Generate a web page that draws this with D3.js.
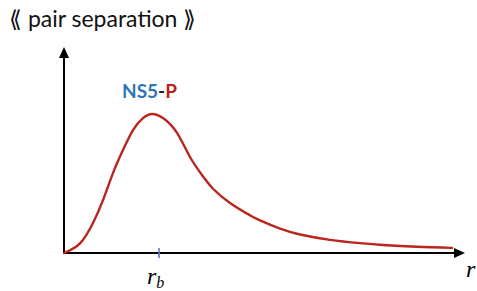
<!DOCTYPE html>
<html><head><meta charset="utf-8">
<script src="https://cdn.jsdelivr.net/npm/d3@7"></script>
<style>body{margin:0;background:#fff}svg{display:block}</style>
</head><body>
<svg id="c" width="477" height="291"></svg>
<script>
// Data (arbitrary units)
const rValues = [0,0.4,0.725,0.975,1.225,1.475,1.725,1.975,2.2,2.475,2.825,3.15,3.475,3.725,4.15,4.65,4.9,5.4,5.9,6.65,7.4,7.975,8.825,9.7];
const pValues = [0,0.047,0.146,0.257,0.388,0.5,0.597,0.655,0.675,0.655,0.583,0.466,0.372,0.312,0.243,0.183,0.158,0.118,0.09,0.064,0.048,0.039,0.03,0.025];
const rbTick = [2.375];
const titleText = "⟪ pair separation ⟫";
const labelParts = ["NS5", "-", "P"];

const svg = d3.select("#c");
const x = d3.scaleLinear().domain([0, 10]).range([64, 464]);
const y = d3.scaleLinear().domain([0, 1]).range([253, 47]);

// axes
const axisColor = "#000";
svg.append("line").attr("x1", x(0)).attr("x2", x(10) - 8).attr("y1", y(0)).attr("y2", y(0))
  .attr("stroke", axisColor).attr("stroke-width", 2);
svg.append("line").attr("x1", x(0)).attr("x2", x(0)).attr("y1", y(0) + 1).attr("y2", y(1) + 8)
  .attr("stroke", axisColor).attr("stroke-width", 2);
// arrowheads
svg.append("path").attr("d", `M${x(10)+1},${y(0)} l-11,-5 l0,10 z`).attr("fill", axisColor);
svg.append("path").attr("d", `M${x(0)},${y(1)} l-5,11 l10,0 z`).attr("fill", axisColor);

// rb tick
svg.selectAll(".tk").data(rbTick).join("line")
  .attr("x1", d => x(d)).attr("x2", d => x(d))
  .attr("y1", y(0) - 5).attr("y2", y(0) + 5)
  .attr("stroke", "#5B7BC6").attr("stroke-width", 1.6);

// curve
const pts = rValues.map((r, i) => [r, pValues[i]]);
svg.append("path").datum(pts)
  .attr("d", d3.line().x(d => x(d[0])).y(d => y(d[1])).curve(d3.curveNatural))
  .attr("fill", "none").attr("stroke", "#B8261E").attr("stroke-width", 2.4)
  .attr("stroke-linecap", "round");

// title
svg.append("text").attr("x", 9).attr("y", 27).text(titleText)
  .attr("font-family", "Lato, 'Open Sans', sans-serif").attr("font-size", 23).attr("fill", "#111");

// NS5-P label
const lab = svg.append("text").attr("x", 122).attr("y", 98)
  .attr("font-family", "Lato, 'Open Sans', sans-serif").attr("font-weight", "bold").attr("font-size", 19);
const labColors = ["#2E75B6", "#222", "#C0201A"];
labelParts.forEach((t, i) => lab.append("tspan").text(t).attr("fill", labColors[i]));

// r labels
svg.append("text").attr("x", 466).attr("y", 277).text("r")
  .attr("font-family", "'Liberation Serif', serif").attr("font-style", "italic").attr("font-size", 24).attr("fill", "#000");
const rb = svg.append("text").attr("x", 147).attr("y", 284)
  .attr("font-family", "'Liberation Serif', serif").attr("font-style", "italic").attr("font-size", 24).attr("fill", "#000");
rb.append("tspan").text("r");
rb.append("tspan").text("b").attr("font-size", 16).attr("dy", 4);
</script>
</body></html>
